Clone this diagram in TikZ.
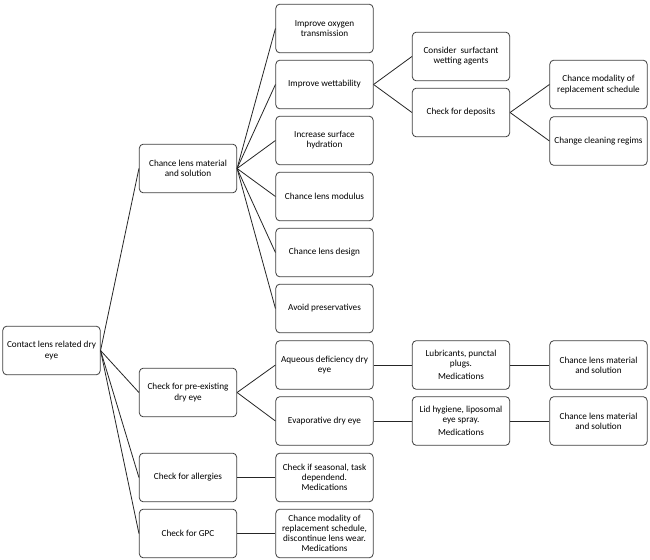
\documentclass[tikz,border=0pt]{standalone}
\usepackage{fontspec}
\setmainfont{Carlito}
\tikzset{
  box/.style={draw=black!75,line width=0.6pt,rounded corners=3pt,fill=white,
    minimum width=73pt,minimum height=36.5pt,align=center,inner sep=1pt,
    font=\fontsize{6.9}{7.6}\selectfont},
  link/.style={draw=black!85,line width=0.6pt}
}
\begin{document}
\begin{tikzpicture}[x=0.75pt,y=-0.75pt]
\useasboundingbox[fill=white] (0,0) rectangle (650,560);
% first two levels
\node[box] (root) at (51.5,350.5) {Contact lens related dry\\eye};
\node[box] (mat) at (188,168.5) {Chance lens material\\and solution};
\node[box] (pre) at (188,392.5) {Check for pre-existing\\dry eye};
\node[box] (all) at (188,477.5) {Check for allergies};
\node[box] (gpc) at (188,533.5) {Check for GPC};
% third level
\node[box] (oxy) at (324.5,28.5) {Improve oxygen\\transmission};
\node[box] (wet) at (324.5,84.5) {Improve wettability};
\node[box] (hyd) at (324.5,140.5) {Increase surface\\hydration};
\node[box] (mod) at (324.5,196.5) {Chance lens modulus};
\node[box] (des) at (324.5,252.5) {Chance lens design};
\node[box] (pres) at (324.5,308.5) {Avoid preservatives};
\node[box] (aq) at (324.5,365) {Aqueous deficiency dry\\eye};
\node[box] (evap) at (324.5,421) {Evaporative dry eye};
\node[box] (seas) at (324.5,477.5) {Check if seasonal, task\\dependend.\\Medications};
\node[box] (repl) at (324.5,533.5) {Chance modality of\\replacement schedule,\\discontinue lens wear.\\Medications};
% fourth level
\node[box] (surf) at (461,56.5) {Consider~ surfactant\\wetting agents};
\node[box] (dep) at (461,112.5) {Check for deposits};
\node[box] (lub) at (461,365) {Lubricants, punctal\\plugs.\\[2.5pt]Medications};
\node[box] (lid) at (461,421) {Lid hygiene, liposomal\\eye spray.\\[2.5pt]Medications};
% fifth level
\node[box] (moda) at (598.5,84.5) {Chance modality of\\replacement schedule};
\node[box] (clean) at (598.5,141) {Change cleaning regims};
\node[box] (mat2) at (598.5,365) {Chance lens material\\and solution};
\node[box] (mat3) at (598.5,421) {Chance lens material\\and solution};
% connectors
\draw[link] (root.east)--(mat.west);
\draw[link] (root.east)--(pre.west);
\draw[link] (root.east)--(all.west);
\draw[link] (root.east)--(gpc.west);
\draw[link] (mat.east)--(oxy.west);
\draw[link] (mat.east)--(wet.west);
\draw[link] (mat.east)--(hyd.west);
\draw[link] (mat.east)--(mod.west);
\draw[link] (mat.east)--(des.west);
\draw[link] (mat.east)--(pres.west);
\draw[link] (pre.east)--(aq.west);
\draw[link] (pre.east)--(evap.west);
\draw[link] (all.east)--(seas.west);
\draw[link] (gpc.east)--(repl.west);
\draw[link] (wet.east)--(surf.west);
\draw[link] (wet.east)--(dep.west);
\draw[link] (dep.east)--(moda.west);
\draw[link] (dep.east)--(clean.west);
\draw[link] (aq.east)--(lub.west);
\draw[link] (lub.east)--(mat2.west);
\draw[link] (evap.east)--(lid.west);
\draw[link] (lid.east)--(mat3.west);
\end{tikzpicture}
\end{document}
